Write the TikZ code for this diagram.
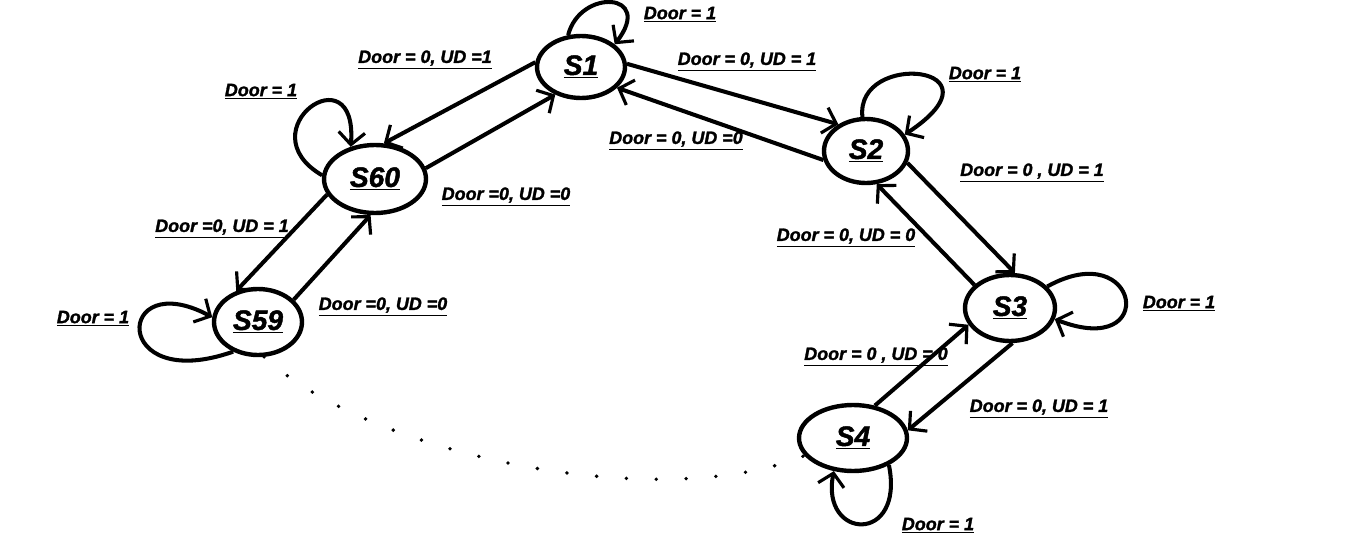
\documentclass[tikz,border=0pt]{standalone}
\usepackage{fontspec}
\setmainfont{Liberation Sans}[BoldItalicFeatures={FakeBold=1.6}]
\usetikzlibrary{arrows.meta}
\usetikzlibrary{shapes.geometric}

\tikzset{
	st/.style={draw, ellipse, line width=2.5pt, inner sep=0pt, font=\fontsize{16}{18}\selectfont\bfseries\itshape},
	lbl/.style={inner sep=0pt, yshift=-1.6pt, font=\fontsize{10.2}{12}\selectfont\bfseries\itshape},
	tr/.style={line width=2.3pt, -{Straight Barb[length=7pt,width=15pt,line width=1.8pt]}}
}

\begin{document}
\begin{tikzpicture}[x=0.02cm, y=-0.02cm]
\useasboundingbox (0,0) rectangle (1360,548);
% states
\node[st, minimum width=1.76cm, minimum height=1.24cm] (s1) at (581,67) {\underline{S1}};
\node[st, minimum width=1.68cm, minimum height=1.28cm] (s2) at (866,151) {\underline{S2}};
\node[st, minimum width=1.80cm, minimum height=1.32cm] (s3) at (1010,308) {\underline{S3}};
\node[st, minimum width=2.16cm, minimum height=1.32cm] (s4) at (853,438) {\underline{S4}};
\node[st, minimum width=2.04cm, minimum height=1.36cm] (s60) at (375,179) {\underline{S60}};
\node[st, minimum width=1.76cm, minimum height=1.32cm] (s59) at (258,322) {\underline{S59}};

% transitions
\path[tr]
(s1.174) edge (s60.76)
(s60.12) edge (s1.227)
(s1.4) edge (s2.136)
(s2.192) edge (s1.330)
(s2.344) edge (s3.82)
(s3.147) edge (s2.288)
(s3.274) edge (s4.8)
(s4.56) edge (s3.202)
(s60.198) edge (s59.125)
(s59.32) edge (s60.263)
;

% self loops
\draw[tr] (s1.112) .. controls (580,-12) and (655,-8) .. (s1.34);
\draw[tr] (s2.96) .. controls (855,50) and (1010,65) .. (s2.23);
\draw[tr] (s3.30) .. controls (1140,235) and (1160,360) .. (s3.346);
\draw[tr] (s4.323) .. controls (905,545) and (820,540) .. (s4.240);
\draw[tr] (s60.176) .. controls (245,130) and (358,50) .. (s60.127);
\draw[tr] (s59.230) .. controls (110,395) and (115,265) .. (s59.174);

% dotted part of the ring
\draw[line width=2.2pt, line cap=round, dash pattern=on 0pt off 17pt]
(s59.280) .. controls (370,455) and (660,515) .. (s4.200);

% labels
\node[lbl] (l1) at (680,12) {\underline{Door = 1}};
\node[lbl] (l2) at (425,57) {\underline{Door = 0, UD =1}};
\node[lbl] (l3) at (747,59) {\underline{Door = 0, UD = 1}};
\node[lbl] (l4) at (676,138) {\underline{Door = 0, UD =0}};
\node[lbl] (l5) at (985,72) {\underline{Door = 1}};
\node[lbl] (l6) at (1032,170) {\underline{Door = 0 , UD = 1}};
\node[lbl] (l7) at (846,235) {\underline{Door = 0, UD = 0}};
\node[lbl] (l8) at (1179,301) {\underline{Door = 1}};
\node[lbl] (l9) at (876,354) {\underline{Door = 0 , UD = 0}};
\node[lbl] (l10) at (1039,406) {\underline{Door = 0, UD = 1}};
\node[lbl] (l11) at (938,523) {\underline{Door = 1}};
\node[lbl] (l12) at (261,89) {\underline{Door = 1}};
\node[lbl] (l13) at (222,226) {\underline{Door =0, UD = 1}};
\node[lbl] (l14) at (506,194) {\underline{Door =0, UD =0}};
\node[lbl] (l15) at (383,304) {\underline{Door =0, UD =0}};
\node[lbl] (l16) at (93,316) {\underline{Door = 1}};
\end{tikzpicture}
\end{document}
